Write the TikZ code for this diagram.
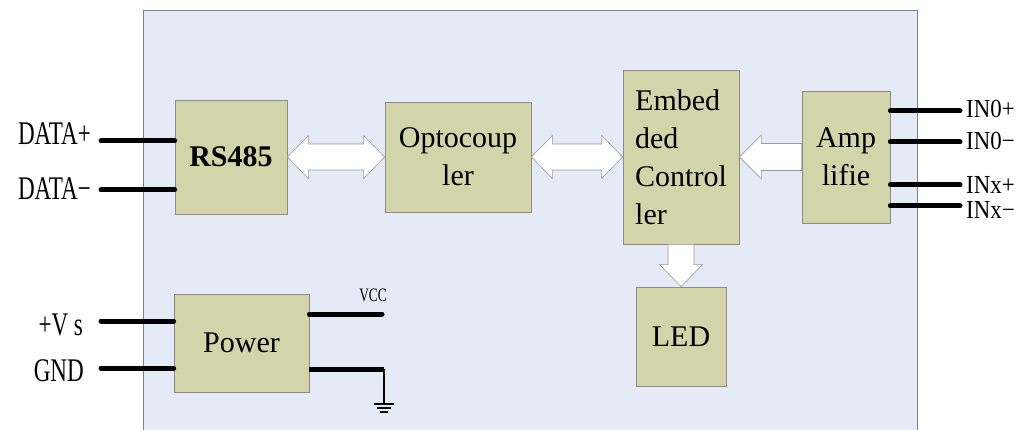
\documentclass[tikz,border=0pt]{standalone}
\usepackage{fontspec}
\setmainfont{Liberation Serif}
\newfontfamily\pinfont[FakeStretch=0.7]{Liberation Serif}
\newfontfamily\infont[FakeStretch=0.88]{Liberation Serif}
\usetikzlibrary{positioning,calc}
\definecolor{bgblue}{HTML}{E4EBF6}
\definecolor{khaki}{HTML}{D4D4AA}
\definecolor{edgegray}{HTML}{8C8C84}

\begin{document}
\begin{tikzpicture}[x=1pt, y=-1pt,
  blk/.style={draw=edgegray, line width=0.8pt, fill=khaki, inner sep=0pt, align=center, font=\fontsize{30}{38}\selectfont},
  pin/.style={line width=5pt, line cap=round},
  lbl/.style={font=\pinfont\fontsize{33}{33}\selectfont, inner sep=0pt},
  inlbl/.style={font=\infont\fontsize{26}{26}\selectfont, inner sep=0pt, anchor=west},
  fat/.style={draw=gray!80, fill=white, line width=0.6pt, line join=miter}]
\useasboundingbox (0,0) rectangle (1030,430);
\clip (0,0) rectangle (1030,430);
\draw[gray, fill=bgblue] (143,10) rectangle (917,450);
% blocks
\node[blk, minimum width=112, minimum height=114, font=\bfseries\fontsize{30}{38}\selectfont] (rs) at (231,157) {RS485};
\node[blk, minimum width=146, minimum height=110] (opto) at (458,157) {Optocoup\\ler};
\node[blk, minimum width=116, minimum height=174, align=left] (ctrl) at (681,157) {Embed\\ded\\Control\\ler};
\node[blk, minimum width=88, minimum height=132] (amp) at (846,157) {Amp\\lifie};
\node[blk, minimum width=90, minimum height=99] (led) at (681,336.5) {LED};
\node[blk, minimum width=135, minimum height=98] (pwr) at (241.5,343) {Power};
% fat arrows
\draw[fat] (rs.east) -- ++(21,-21.5) -- ++(0,8.5) -- ($(opto.west)+(-21,-13)$) -- ++(0,-8.5) -- (opto.west)
  -- ++(-21,21.5) -- ++(0,-8.5) -- ($(rs.east)+(21,13)$) -- ++(0,8.5) -- cycle;
\draw[fat] (opto.east) -- ++(21,-21.5) -- ++(0,8.5) -- ($(ctrl.west)+(-21,-13)$) -- ++(0,-8.5) -- (ctrl.west)
  -- ++(-21,21.5) -- ++(0,-8.5) -- ($(opto.east)+(21,13)$) -- ++(0,8.5) -- cycle;
\draw[fat] (ctrl.east) -- ++(22,-22) -- ++(0,8.5) -- ($(amp.west)+(0,-13.5)$) -- ++(0,27)
  -- ($(ctrl.east)+(22,13.5)$) -- ++(0,8.5) -- cycle;
\draw[fat] (led.north) -- ++(-21.5,-22) -- ++(8.5,0) -- ($(ctrl.south)+(-13,0)$) -- ++(26,0)
  -- ($(led.north)+(13,-22)$) -- ++(8.5,0) -- cycle;
% pins
\coordinate (dp) at (101,141); \coordinate (dm) at (101,190);
\coordinate (vs) at (101,321); \coordinate (gi) at (101,368);
\draw[pin] (dp) -- (dp -| rs.west); \draw[pin] (dm) -- (dm -| rs.west);
\draw[pin] (vs) -- (vs -| pwr.west); \draw[pin] (gi) -- (gi -| pwr.west);
\node[lbl, anchor=east] (dpl) at (91,134) {DATA+};
\node[lbl, anchor=east] (dml) at (91,189) {DATA−};
\node[lbl, anchor=east] (vsl) at (83,325) {+V\,s};
\node[lbl, anchor=east] (gil) at (84,371) {GND};
\foreach \n/\y in {a/111, b/142, c/185, d/206}{
  \coordinate (in\n) at (960,\y);
  \draw[pin] (in\n -| amp.east) -- (in\n);
}
\node[inlbl] at (966,109) {IN0+};
\node[inlbl] at (966,141) {IN0−};
\node[inlbl] at (966,185) {INx+};
\node[inlbl] at (966,210) {INx−};
% power outputs
\coordinate (vcc) at (382,314); \coordinate (gnd) at (384,369); \coordinate (gs) at (384,404);
\draw[pin] (vcc -| pwr.east) -- (vcc);
\node[lbl, font=\pinfont\fontsize{19}{19}\selectfont] at (373,295) {VCC};
\draw[pin, line cap=butt] (gnd -| pwr.east) -- (gnd);
\draw[line width=1.2pt] (gnd) -- (gs);
\draw[line width=1.2pt] ($(gs)+(-10,0)$) -- ++(20,0) ($(gs)+(-7,4)$) -- ++(14,0) ($(gs)+(-4,8)$) -- ++(8,0);
\end{tikzpicture}
\end{document}
